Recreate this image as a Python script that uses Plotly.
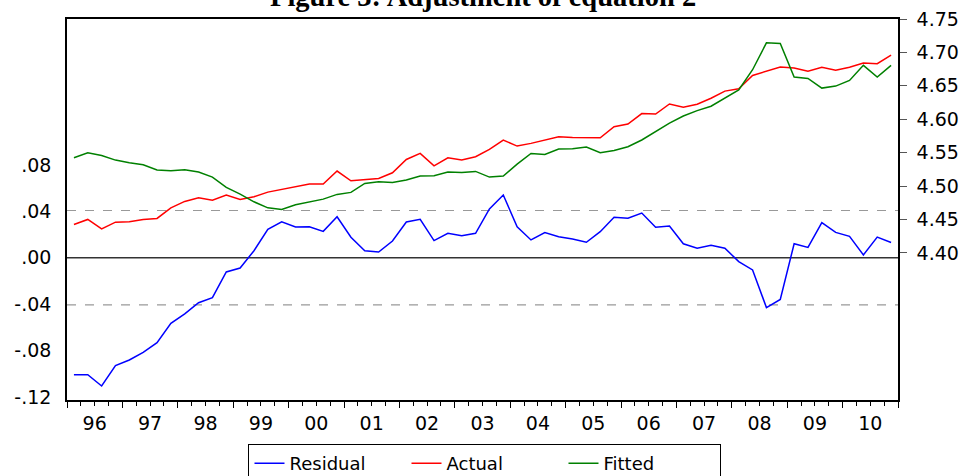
import plotly.graph_objects as go

# ---------------- data ----------------
quarters = [f"{y}Q{q}" for y in range(1996, 2011) for q in range(1, 5)]

residual = [
    -0.1009, -0.1009, -0.1106, -0.0931, -0.0882, -0.0816, -0.0733, -0.0566,
    -0.0485, -0.0388, -0.0345, -0.0123, -0.0089, 0.0060, 0.0245, 0.0310,
    0.0265, 0.0267, 0.0227, 0.0353, 0.0176, 0.0060, 0.0049, 0.0144,
    0.0308, 0.0331, 0.0147, 0.0210, 0.0190, 0.0210, 0.0420, 0.0540,
    0.0267, 0.0153, 0.0216, 0.0181, 0.0161, 0.0133, 0.0224, 0.0348,
    0.0340, 0.0385, 0.0262, 0.0273, 0.0120, 0.0082, 0.0108, 0.0082,
    -0.0034, -0.0106, -0.0430, -0.0360, 0.0120, 0.0088, 0.0302, 0.0218,
    0.0184, 0.0024, 0.0178, 0.0131,
]

actual = [
    4.4426, 4.4501, 4.4361, 4.4461, 4.4466, 4.4501, 4.4516, 4.4675,
    4.4771, 4.4825, 4.4790, 4.4865, 4.4801, 4.4840, 4.4910, 4.4950,
    4.4980, 4.5030, 4.5030, 4.5225, 4.5080, 4.5100, 4.5115, 4.5199,
    4.5399, 4.5489, 4.5304, 4.5424, 4.5389, 4.5439, 4.5549, 4.5689,
    4.5599, 4.5639, 4.5689, 4.5738, 4.5729, 4.5723, 4.5723, 4.5888,
    4.5928, 4.6085, 4.6078, 4.6229, 4.6180, 4.6225, 4.6314, 4.6421,
    4.6455, 4.6656, 4.6722, 4.6781, 4.6766, 4.6717, 4.6777, 4.6732,
    4.6777, 4.6841, 4.6832, 4.6958,
]

fitted = [
    4.5424, 4.5499, 4.5459, 4.5389, 4.5349, 4.5319, 4.5240, 4.5229,
    4.5244, 4.5210, 4.5135, 4.4980, 4.4880, 4.4765, 4.4675, 4.4651,
    4.4720, 4.4765, 4.4805, 4.4876, 4.4906, 4.5040, 4.5065, 4.5055,
    4.5090, 4.5150, 4.5155, 4.5210, 4.5205, 4.5220, 4.5135, 4.5150,
    4.5329, 4.5489, 4.5474, 4.5554, 4.5559, 4.5584, 4.5499, 4.5534,
    4.5589, 4.5690, 4.5815, 4.5943, 4.6048, 4.6129, 4.6195, 4.6314,
    4.6440, 4.6741, 4.7144, 4.7133, 4.6632, 4.6611, 4.6466, 4.6496,
    4.6581, 4.6807, 4.6632, 4.6807,
]

year_labels = ["96", "97", "98", "99", "00", "01", "02", "03",
               "04", "05", "06", "07", "08", "09", "10"]
left_tickvals = [-0.12, -0.08, -0.04, 0.0, 0.04, 0.08]
left_ticktext = ["-.12", "-.08", "-.04", ".00", ".04", ".08"]
right_tickvals = [4.40, 4.45, 4.50, 4.55, 4.60, 4.65, 4.70, 4.75]
right_ticktext = ["4.40", "4.45", "4.50", "4.55", "4.60", "4.65", "4.70", "4.75"]
std_err = 0.0407
title_text = "Figure 3: Adjustment of equation 2"

# ---------------- figure ----------------
n = len(quarters)
xpos = [i + 0.5 for i in range(n)]
n_years = len(year_labels)
label_pos = [4 * k + 2 for k in range(n_years)]
year_bounds = [4 * k for k in range(n_years + 1)]

TICKFONT = dict(family="DejaVu Sans", size=19, color="black")

fig = go.Figure()
fig.add_trace(go.Scatter(x=xpos, y=residual, name="Residual", mode="lines",
                         line=dict(color="#0000FF", width=1.5), yaxis="y"))
fig.add_trace(go.Scatter(x=xpos, y=actual, name="Actual", mode="lines",
                         line=dict(color="#FF0000", width=1.5), yaxis="y2"))
fig.add_trace(go.Scatter(x=xpos, y=fitted, name="Fitted", mode="lines",
                         line=dict(color="#008000", width=1.5), yaxis="y2"))
# helper (invisible) trace so the year-boundary tick axis is drawn
fig.add_trace(go.Scatter(x=[year_bounds[0]], y=[0], xaxis="x2", yaxis="y",
                         mode="markers", marker=dict(opacity=0),
                         showlegend=False, hoverinfo="skip"))

# reference lines for residual
fig.add_hline(y=0, line=dict(color="#333333", width=1.5), layer="below")
fig.add_hline(y=std_err, line=dict(color="#999999", width=1.2, dash="dash"), layer="below")
fig.add_hline(y=-std_err, line=dict(color="#999999", width=1.2, dash="dash"), layer="below")

fig.update_layout(
    width=962, height=476, autosize=False,
    margin=dict(l=67, r=64, t=19, b=76, autoexpand=False),
    paper_bgcolor="white", plot_bgcolor="white",
    xaxis=dict(range=[0, n], tickvals=label_pos, ticktext=year_labels,
               ticks="", showgrid=False, zeroline=False,
               showline=True, linecolor="black", linewidth=1.5, mirror=True,
               tickfont=TICKFONT, ticklabelstandoff=5, automargin=False,
               minor=dict(ticks="outside", dtick=1, tick0=0, ticklen=4,
                          tickcolor="black", tickwidth=1, showgrid=False)),
    xaxis2=dict(range=[0, n], overlaying="x", side="bottom", anchor="y",
                tickvals=year_bounds, ticks="outside", ticklen=7,
                tickcolor="black", tickwidth=1, showticklabels=False,
                showgrid=False, zeroline=False, showline=False, automargin=False),
    yaxis=dict(range=[-0.1227, 0.2058], tickvals=left_tickvals,
               ticktext=left_ticktext, ticks="", showgrid=False,
               zeroline=False, showline=True, linecolor="black", linewidth=1.5,
               tickfont=TICKFONT, ticklabelstandoff=10, automargin=False),
    yaxis2=dict(range=[4.18, 4.75], overlaying="y", side="right",
                tickvals=right_tickvals, ticktext=right_ticktext,
                ticks="outside", ticklen=7, tickcolor="#555555",
                showgrid=False, zeroline=False, showline=True,
                linecolor="black", linewidth=1.5, tickfont=TICKFONT,
                ticklabelstandoff=6, automargin=False),
    legend=dict(orientation="h", x=0.503, xanchor="center",
                y=-0.1155, yanchor="top", bordercolor="black", borderwidth=1,
                font=dict(family="DejaVu Sans", size=18, color="black"),
                entrywidth=112, entrywidthmode="pixels",
                bgcolor="white"),
    showlegend=True,
)

fig.add_annotation(text=f"<b>{title_text}</b>", xref="paper", yref="paper",
                   x=0.5, y=1.0144, yanchor="bottom", showarrow=False,
                   font=dict(family="Liberation Serif", size=28.5, color="black"))

fig.write_html("out.html",
               config={"displayModeBar": False},
               post_script="document.body.style.margin='0';"
                           "document.body.style.overflow='hidden';")
